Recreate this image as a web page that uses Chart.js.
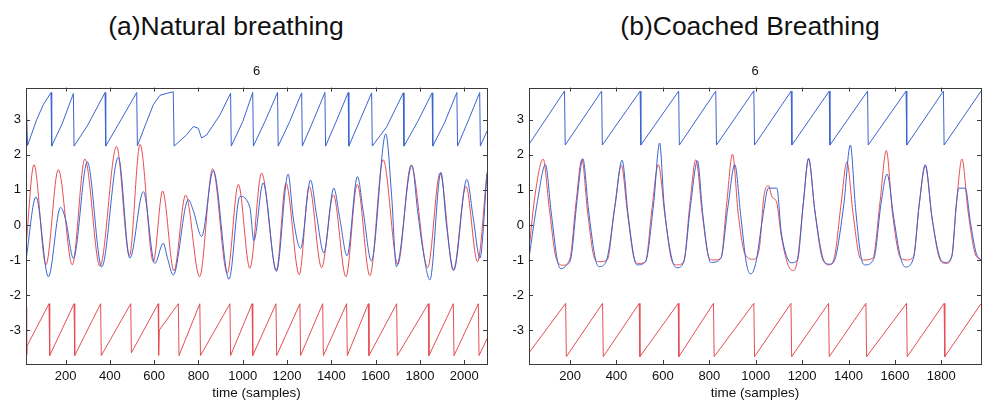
<!DOCTYPE html>
<html lang="en">
<head>
    <meta charset="UTF-8">
    <title>Breathing phase comparison</title>
    <script src="https://cdn.jsdelivr.net/npm/chart.js"></script>
    <style>
        body {
            margin: 0;
            background: #fff;
            width: 982px;
            height: 402px;
            position: relative;
            overflow: hidden;
            font-family: "Liberation Sans", Arial, sans-serif;
        }
        .heading {
            position: absolute;
            top: 13px;
            width: 400px;
            text-align: center;
            font-size: 26.5px;
            line-height: 26.5px;
            color: #111;
            white-space: nowrap;
        }
        canvas {
            position: absolute;
            top: 56px;
        }
    </style>
</head>
<body>
    <div class="heading" style="left: 26px;">(a)Natural breathing</div>
    <div class="heading" style="left: 550px;">(b)Coached Breathing</div>

    <canvas id="natural" width="490" height="346" style="left: 0px;"></canvas>
    <canvas id="coached" width="492" height="346" style="left: 490px;"></canvas>

    <script>
        // tick labels
        const naturalXTicks = [200, 400, 600, 800, 1000, 1200, 1400, 1600, 1800, 2000];
        const coachedXTicks = [200, 400, 600, 800, 1000, 1200, 1400, 1600, 1800];
        const yTicks = [-3, -2, -1, 0, 1, 2, 3];

        // (a) natural breathing: [sample, value]
        const natBlueSaw = [
            [21, 3.78], [28, 2.27], [69, 3.0], [99, 3.43], [134, 3.78], [137, 2.25],
            [185, 2.9], [235, 3.75], [238, 2.25], [300, 2.85], [378, 3.78], [381, 2.25],
            [450, 3.0], [521, 3.78], [524, 2.26], [566, 2.95], [596, 3.43], [626, 3.7],
            [660, 3.76], [686, 3.8], [690, 2.25], [746, 2.57], [777, 2.81], [799, 2.76],
            [814, 2.48], [837, 2.57], [897, 3.14], [945, 3.76], [948, 2.25], [1000, 2.95],
            [1045, 3.78], [1048, 2.25], [1100, 2.95], [1157, 3.78], [1160, 2.25], [1212, 2.95],
            [1266, 3.77], [1269, 2.25], [1320, 3.0], [1371, 3.78], [1374, 2.25], [1425, 3.0],
            [1476, 3.78], [1479, 2.25], [1530, 3.0], [1582, 3.77], [1585, 2.25], [1650, 2.8],
            [1725, 3.77], [1728, 2.25], [1790, 2.95], [1855, 3.77], [1858, 2.25], [1910, 2.9],
            [1967, 3.78], [1970, 2.25], [2020, 3.0], [2070, 3.78], [2073, 2.25], [2103, 2.68]
        ];
        const natRedSaw = [
            [21, -2.35], [24, -3.7], [26, -3.45], [125, -2.25], [128, -3.73],
            [238, -2.25], [241, -3.73], [358, -2.25], [361, -3.73], [494, -2.25], [497, -3.65],
            [618, -2.25], [620, -3.72], [623, -3.0], [709, -2.25], [712, -3.73],
            [806, -2.25], [809, -3.73], [942, -2.25], [945, -3.73], [1042, -2.25], [1045, -3.73],
            [1150, -2.25], [1153, -3.73], [1258, -2.25], [1261, -3.73], [1361, -2.25], [1364, -3.73],
            [1469, -2.25], [1472, -3.73], [1567, -2.25], [1570, -3.73], [1695, -2.25], [1698, -3.73],
            [1838, -2.25], [1841, -3.73], [1951, -2.25], [1954, -3.73], [2064, -2.25], [2067, -3.73],
            [2103, -3.25]
        ];
        const natBlue = [
            [21, -1.0], [66, 0.8], [122, -1.48], [177, 0.5], [200, 0.15], [235, -0.95],
            [298, 1.8], [363, -1.2], [438, 1.93], [490, -0.95], [551, 0.95], [603, -1.1],
            [641, -0.52], [660, -0.95], [686, -1.43], [754, 0.72], [777, 0.4], [814, -0.33],
            [867, 1.55], [938, -1.55], [987, 0.81], [1032, 0.5], [1050, -0.45], [1092, 1.2],
            [1152, -1.33], [1205, 1.45], [1228, 0.2], [1261, -0.67], [1306, 1.28], [1333, 0.29],
            [1366, -0.8], [1411, 1.05], [1438, 0.19], [1471, -0.88], [1518, 1.38], [1544, 0.38],
            [1581, -1.03], [1646, 2.6], [1672, 0.86], [1694, -1.19], [1764, 1.7], [1790, 0.38],
            [1815, -0.76], [1845, -1.57], [1895, 1.5], [1920, 0.0], [1953, -1.29], [2012, 1.3],
            [2041, 0.19], [2071, -0.95], [2103, 1.45]
        ];
        const natRed = [
            [21, -0.6], [57, 1.72], [111, -1.14], [167, 1.58], [230, -1.14], [287, 1.88],
            [355, -1.18], [430, 2.24], [488, -0.88], [536, 2.3], [596, -1.05], [638, 0.97],
            [689, -1.31], [742, 0.85], [805, -1.48], [864, 1.6], [930, -1.38], [980, 1.16],
            [1032, -1.24], [1085, 1.48], [1152, -1.29], [1195, 1.19], [1255, -1.42], [1300, 1.1],
            [1356, -1.22], [1409, 0.86], [1466, -1.48], [1517, 1.16], [1574, -1.45], [1634, 1.86],
            [1700, -1.12], [1760, 1.71], [1835, -1.22], [1891, 1.48], [1951, -1.3], [2008, 1.1],
            [2060, -1.05], [2103, 1.5]
        ];

        // (b) coached breathing: [sample, value]
        const coBlueSaw = [
            [23, 2.3], [176, 3.82], [179, 2.28], [336, 3.82], [339, 2.28], [502, 3.82], [505, 2.28],
            [668, 3.82], [671, 2.28], [828, 3.82], [831, 2.28], [992, 3.83], [995, 2.28],
            [1153, 3.82], [1156, 2.28], [1317, 3.82], [1320, 2.28], [1482, 3.82], [1485, 2.28],
            [1648, 3.82], [1651, 2.28], [1809, 3.82], [1812, 2.28], [1971, 3.82]
        ];
        const coRedSaw = [
            [23, -3.65], [181, -2.24], [184, -3.76], [340, -2.24], [343, -3.76], [498, -2.24],
            [501, -3.76], [666, -2.24], [669, -3.76], [818, -2.24], [821, -3.76], [992, -2.24],
            [995, -3.76], [1152, -2.24], [1155, -3.76], [1314, -2.24], [1317, -3.76],
            [1475, -2.24], [1478, -3.76], [1650, -2.24], [1653, -3.76], [1812, -2.24],
            [1815, -3.76], [1971, -2.25]
        ];
        const coBlue = [
            [23, -0.95], [60, 0.7], [94, 1.72], [118, 0.4], [145, -1.0], [160, -1.25], [185, -1.15],
            [205, -0.9], [230, 0.7], [255, 1.89], [280, 0.4], [310, -1.0], [325, -1.19], [355, -1.05],
            [395, 0.6], [424, 1.85], [450, 0.3], [478, -1.0], [490, -1.14], [525, -1.05], [560, 0.6],
            [586, 2.34], [605, 0.6], [640, -1.0], [662, -1.22], [690, -1.05], [720, 0.6], [749, 1.83],
            [772, 0.3], [800, -1.0], [810, -1.07], [850, -0.95], [880, 0.5], [910, 1.72], [935, 0.3],
            [960, -1.1], [978, -1.4], [1000, -1.1], [1030, 0.2], [1055, 1.05], [1091, 1.05],
            [1110, -0.2], [1140, -1.0], [1156, -1.08], [1180, -1.0], [1205, 0.6], [1228, 1.9],
            [1255, 0.4], [1290, -1.0], [1321, -1.12], [1345, -0.9], [1380, 0.6], [1408, 2.28],
            [1430, 0.5], [1455, -0.95], [1472, -1.14], [1510, -0.95], [1540, 0.6], [1566, 1.45],
            [1595, 0.2], [1625, -0.95], [1645, -1.2], [1680, -0.95], [1705, 0.6], [1731, 1.72],
            [1760, 0.2], [1795, -0.95], [1817, -1.07], [1845, -0.9], [1865, 0.6], [1875, 1.05],
            [1903, 1.05], [1925, 0.1], [1950, -0.8], [1971, -1.0]
        ];
        const coRed = [
            [23, -0.7], [50, 0.9], [84, 1.88], [110, 0.5], [140, -0.95], [170, -1.15], [200, -0.95],
            [225, 0.6], [251, 1.87], [275, 0.4], [305, -0.95], [325, -1.05], [360, -1.0], [392, 0.5],
            [421, 1.7], [448, 0.3], [478, -1.0], [495, -1.1], [525, -1.05], [552, 0.4], [580, 1.72],
            [610, 0.2], [640, -1.05], [660, -1.14], [690, -1.05], [715, 0.5], [742, 1.86], [770, 0.3],
            [800, -0.95], [820, -1.0], [850, -0.95], [875, 0.6], [900, 2.02], [925, 0.3], [955, -0.85],
            [990, -0.98], [1015, -0.7], [1035, 0.8], [1055, 1.12], [1070, 0.8], [1090, 0.65],
            [1110, -0.3], [1140, -1.15], [1163, -1.3], [1180, -1.0], [1205, 0.6], [1228, 1.89],
            [1255, 0.4], [1290, -0.95], [1314, -1.14], [1340, -0.9], [1368, 0.6], [1393, 1.8],
            [1420, 0.3], [1450, -0.95], [1465, -1.0], [1505, -0.95], [1535, 0.6], [1563, 2.12],
            [1590, 0.3], [1625, -0.95], [1652, -1.0], [1680, -0.9], [1705, 0.6], [1731, 1.68],
            [1760, 0.2], [1795, -1.0], [1822, -1.1], [1845, -0.9], [1865, 0.6], [1889, 1.88],
            [1915, 0.4], [1945, -0.8], [1971, -1.0]
        ];

        const BLUE = 'rgb(58, 100, 208)';
        const RED = 'rgb(228, 78, 84)';
        const FONT = '"Liberation Sans", Arial, sans-serif';

        function toPoints(pairs) {
            return pairs.map(p => ({ x: p[0], y: p[1] }));
        }

        function series(pairs, color, smooth) {
            return {
                data: toPoints(pairs),
                borderColor: color,
                borderWidth: 1,
                pointRadius: 0,
                fill: false,
                tension: 0,
                cubicInterpolationMode: smooth ? 'monotone' : 'default'
            };
        }

        // box outline with inward ticks on all four sides
        const boxPlugin = {
            id: 'box',
            afterDraw(chart) {
                const { ctx, chartArea: a, scales } = chart;
                ctx.save();
                ctx.strokeStyle = '#3a3a3a';
                ctx.lineWidth = 1;
                ctx.strokeRect(Math.round(a.left) + 0.5, Math.round(a.top) + 0.5,
                    Math.round(a.right - a.left), Math.round(a.bottom - a.top));
                ctx.beginPath();
                const tl = 4;
                chart.options.plugins.box.xTicks.forEach(v => {
                    const x = Math.round(scales.x.getPixelForValue(v)) + 0.5;
                    ctx.moveTo(x, a.bottom); ctx.lineTo(x, a.bottom - tl);
                    ctx.moveTo(x, a.top); ctx.lineTo(x, a.top + tl);
                });
                yTicks.forEach(v => {
                    const y = Math.round(scales.y.getPixelForValue(v)) + 0.5;
                    ctx.moveTo(a.left, y); ctx.lineTo(a.left + tl, y);
                    ctx.moveTo(a.right, y); ctx.lineTo(a.right - tl, y);
                });
                ctx.stroke();
                ctx.restore();
            }
        };

        function makePanel(id, sets, xTicks, xMin, xMax, yWidth, padRight) {
            new Chart(document.getElementById(id), {
                type: 'line',
                data: {
                    datasets: [
                        series(sets[0], BLUE, false),
                        series(sets[1], RED, false),
                        series(sets[2], BLUE, true),
                        series(sets[3], RED, true)
                    ]
                },
                options: {
                    responsive: false,
                    animation: false,
                    layout: { padding: { left: 0, right: padRight, top: 0, bottom: 0 } },
                    plugins: {
                        legend: { display: false },
                        tooltip: { enabled: false },
                        title: {
                            display: true,
                            text: '6',
                            fullSize: false,
                            color: '#111',
                            font: { family: FONT, size: 13, weight: 'normal' },
                            padding: { top: 8, bottom: 8 }
                        },
                        box: { xTicks: xTicks }
                    },
                    scales: {
                        x: {
                            type: 'linear',
                            min: xMin,
                            max: xMax,
                            afterBuildTicks: s => { s.ticks = xTicks.map(v => ({ value: v })); },
                            afterFit: s => { s.height = 38; },
                            grid: { display: false, drawTicks: false },
                            border: { display: false },
                            ticks: {
                                color: '#111',
                                padding: 5,
                                maxRotation: 0,
                                autoSkip: false,
                                font: { family: FONT, size: 13 },
                                callback: v => String(v)
                            },
                            title: {
                                display: true,
                                text: 'time (samples)',
                                color: '#111',
                                font: { family: FONT, size: 13.5 },
                                padding: { top: 0, bottom: 1 }
                            }
                        },
                        y: {
                            type: 'linear',
                            min: -3.97,
                            max: 3.92,
                            afterBuildTicks: s => { s.ticks = yTicks.map(v => ({ value: v })); },
                            afterFit: s => { s.width = yWidth; },
                            grid: { display: false, drawTicks: false },
                            border: { display: false },
                            ticks: {
                                color: '#111',
                                padding: 5,
                                font: { family: FONT, size: 13 },
                                callback: v => String(v)
                            }
                        }
                    }
                },
                plugins: [boxPlugin]
            });
        }

        makePanel('natural', [natBlueSaw, natRedSaw, natBlue, natRed], naturalXTicks, 21, 2103, 26, 3);
        makePanel('coached', [coBlueSaw, coRedSaw, coBlue, coRed], coachedXTicks, 23, 1971, 39, 1);
    </script>
</body>
</html>
